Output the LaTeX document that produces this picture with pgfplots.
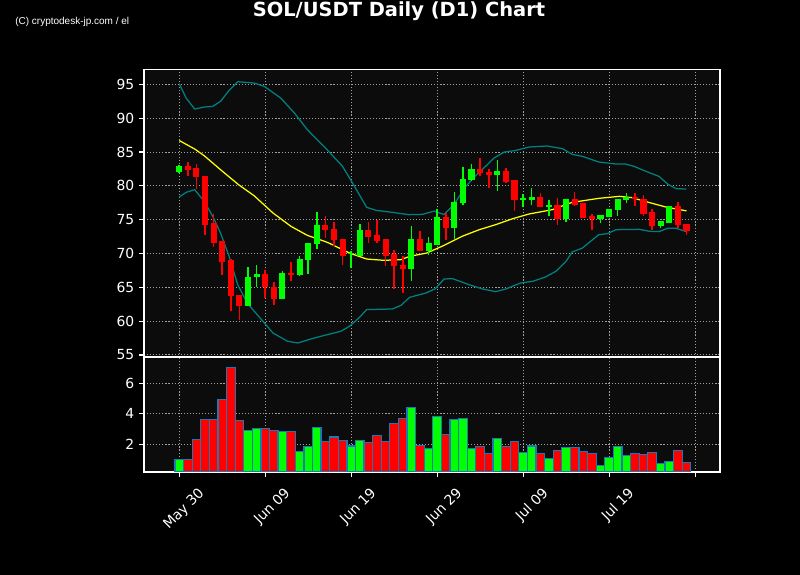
\documentclass[border=0pt]{standalone}
\usepackage{fontspec}
\setmainfont{DejaVu Sans}
\newfontfamily\cpfont{Liberation Sans}
\usepackage{pgfplots}
\usepackage{pgfplotstable}
\pgfplotsset{compat=1.18}
\definecolor{upg}{RGB}{0,255,0}
\definecolor{dnr}{RGB}{255,0,0}
\definecolor{axbg}{RGB}{12,12,12}
\definecolor{edgeb}{RGB}{31,119,180}
\definecolor{bband}{RGB}{0,128,128}
\definecolor{smay}{RGB}{255,255,0}
\definecolor{gridc}{RGB}{160,160,160}

% x o h l c v(1e6)
\pgfplotstableread{
x o h l c v
0 82.0 83.1 81.9 82.8 1.02
8 62.2 68.0 62.2 66.5 2.92
9 66.5 68.3 65.0 66.9 3.05
12 63.2 67.4 63.2 67.0 2.85
14 66.8 69.6 66.6 69.1 1.54
15 69.1 71.6 67.0 71.5 1.87
16 71.4 76.1 70.7 74.1 3.11
20 69.9 70.35 67.9 70.05 1.89
21 69.7 74.3 69.7 73.35 2.26
27 67.75 74.0 65.9 72.05 4.43
29 70.4 72.4 69.8 71.45 1.74
30 71.3 76.6 71.3 75.3 3.84
32 73.7 79.1 72.2 77.5 3.64
33 77.4 82.8 77.1 80.9 3.70
34 80.9 83.2 80.7 82.4 1.74
37 81.55 83.8 79.2 82.05 2.39
40 77.85 78.8 76.8 78.15 1.48
41 77.95 79.7 77.1 78.3 1.88
43 76.8 77.85 75.6 77.1 1.06
45 75.05 77.95 74.6 77.95 1.80
49 75.05 75.6 74.5 75.6 0.62
50 75.45 76.5 75.45 76.5 1.15
51 76.4 77.95 75.6 77.95 1.87
52 77.85 78.9 77.4 78.3 1.28
56 74.0 74.7 73.7 74.7 0.75
57 74.55 77.0 74.55 77.0 0.89
}\up

\pgfplotstableread{
x o h l c v
1 82.8 83.5 81.5 82.4 1.02
2 82.5 83.2 79.5 81.25 2.33
3 81.35 81.35 72.8 74.26 3.64
4 74.4 75.8 70.9 71.6 3.64
5 71.7 71.8 66.8 68.8 4.95
6 68.9 69.2 61.5 63.7 7.05
7 63.8 63.8 60.2 62.2 3.57
10 66.9 67.6 63.4 65.0 3.05
11 65.0 65.8 62.4 63.2 2.92
13 67.1 68.8 66.0 66.8 2.85
17 74.1 75.6 72.3 73.5 2.20
18 73.6 74.7 71.1 72.0 2.47
19 72.1 72.1 68.3 69.7 2.26
22 73.4 74.7 71.5 72.5 2.13
23 72.6 75.0 71.5 71.9 2.59
24 72.0 72.0 68.1 69.7 2.20
25 69.8 70.5 64.8 68.1 3.38
26 68.2 69.7 64.2 67.75 3.70
28 72.0 73.3 70.4 70.4 1.93
31 75.3 76.0 72.0 73.7 2.66
35 82.4 84.1 81.4 81.85 1.87
36 81.9 82.5 79.7 81.55 1.41
38 82.1 82.7 80.4 80.6 1.87
39 80.75 80.75 76.3 77.85 2.20
42 78.3 78.9 76.8 76.8 1.37
44 77.05 78.2 74.2 75.05 1.61
46 77.95 79.1 77.0 77.2 1.80
47 77.35 77.5 75.2 75.3 1.54
48 75.4 75.9 73.5 75.05 1.37
53 78.3 78.9 77.0 78.1 1.41
54 77.95 78.6 75.5 75.9 1.34
55 76.0 76.6 73.4 74.0 1.48
58 77.0 77.6 73.7 74.2 1.61
59 74.25 74.4 72.8 73.3 0.82
}\down

\pgfplotstableread{
x y
0 86.7
1.8 85.44
2.9 84.46
4.8 82.39
6.9 80.17
8.7 78.55
10.9 75.99
13 74.01
14.9 72.68
16.9 71.8
17.4 71.55
19.8 70.07
21.8 69.18
23.8 68.99
25.8 69.09
26.8 69.58
28.8 70.07
30.8 71.2
32.9 72.54
34.9 73.52
36.8 74.26
38.8 75.15
40.7 75.84
43.4 76.48
45.7 77.56
48.8 78.15
51.2 78.45
52.7 78.25
54.3 77.66
56.6 76.87
59 76.3
}\sma

\pgfplotstableread{
x y
0 95.1
0.8 92.98
1.8 91.35
2.9 91.65
3.9 91.75
4.8 92.49
5.8 94.11
6.8 95.39
8.7 95.2
9.9 94.7
11.8 92.98
13.4 90.76
14.9 88.3
17.2 85.34
19.0 82.88
20.5 79.68
21.8 76.82
22.9 76.38
24.8 76.08
26.7 75.74
28.3 75.79
29.65 76.26
30.8 75.76
32.0 77.27
33.1 79.55
34.3 81.3
35.4 82.6
36.6 84.1
37.8 85.0
39.0 85.2
40.7 85.74
42.8 85.89
44.6 85.49
45.7 84.66
46.9 84.36
48.8 83.52
50.8 83.23
51.9 83.23
52.9 82.88
54.3 82.14
55.8 81.4
56.8 80.27
57.8 79.58
59 79.53
}\bbup

\pgfplotstableread{
x y
0 78.35
0.8 79.04
1.8 79.43
2.9 77.71
3.9 75.49
4.8 73.03
5.8 69.58
6.8 65.39
7.9 62.68
9.9 59.73
10.9 58.25
12.6 57.02
13.8 56.77
15.3 57.36
16.9 57.9
18.8 58.5
19.8 59.24
20.9 60.47
21.8 61.7
24.8 61.8
25.8 62.34
26.8 63.52
28.7 64.16
29.8 64.8
30.8 66.23
31.8 66.28
33.7 65.39
35.3 64.75
36.8 64.36
38 64.75
39.7 65.64
41.1 65.88
42.6 66.53
43.8 67.36
45 68.84
45.7 70.22
46.9 70.81
48.8 72.78
49.8 72.93
50.8 73.52
53.5 73.57
54.7 73.28
55.8 73.23
56.8 73.72
57.8 73.72
59 73.23
}\bblo

\pgfplotsset{
  darkax/.style={
    scale only axis,
    width=414.72pt,
    xmin=-4.1, xmax=62.9,
    axis background/.style={fill=axbg},
    axis line style={white, line width=0.8pt},
    tick style={white, line width=0.8pt},
    tick align=outside,
    major tick length=3.5pt,
    xtick pos=left, ytick pos=left,
    xtick={0,10,...,60},
    grid=major,
    grid style={gridc, line width=0.7pt, dash pattern=on 0.8pt off 1.4pt},
    tick label style={white, font=\fontsize{10}{12}\selectfont},
    label style={white, font=\fontsize{10}{12}\selectfont},
    /pgf/number format/assume math mode=true,
  },
  wick/.style={draw=none, mark=none, forget plot,
    error bars/.cd, y dir=plus, y explicit, error mark=none,
    error bar style={draw=#1, line width=1.1pt}},
  body/.style={draw=none, mark=none, forget plot,
    error bars/.cd, y dir=plus, y explicit, error mark=none,
    error bar style={draw=#1, line width=4.4pt}},
}

\begin{document}
\begin{tikzpicture}[x=0.72pt,y=0.72pt]
\fill[black] (0,0) rectangle (800,575);
\path[use as bounding box] (0,0) rectangle (800,575);

\node[white, font=\bfseries\fontsize{14}{16}\selectfont] at (399,564) {SOL/USDT Daily (D1) Chart};
\node[white, anchor=west, inner sep=0pt, font=\cpfont\fontsize{7.2}{8}\selectfont] at (15,553.5) {(C) cryptodesk-jp.com / el};

% price panel
\begin{axis}[darkax,
  at={(103.68pt,156.96pt)}, anchor=south west,
  height=207pt,
  ymin=54.7, ymax=97.2,
  ytick={55,60,...,95},
  xticklabels={},
  xtick style={draw=none},
  ylabel={Price},
  every axis y label/.style={at={(axis description cs:-0.0712,0.5)}, rotate=90, anchor=center},
]
\addplot[bband, line width=0.9pt] table[x=x,y=y] {\bbup};
\addplot[bband, line width=0.9pt] table[x=x,y=y] {\bblo};
\addplot[smay, line width=0.9pt] table[x=x,y=y] {\sma};
% wicks
\addplot[wick=upg] table[x=x, y=l, y error expr=\thisrow{h}-\thisrow{l}] {\up};
\addplot[wick=dnr] table[x=x, y=l, y error expr=\thisrow{h}-\thisrow{l}] {\down};
% bodies
\addplot[body=upg] table[x=x, y=o, y error expr=\thisrow{c}-\thisrow{o}+0.08] {\up};
\addplot[body=dnr] table[x=x, y=c, y error expr=\thisrow{o}-\thisrow{c}+0.08] {\down};
\end{axis}

% volume panel
\begin{axis}[darkax,
  at={(103.68pt,74.16pt)}, anchor=south west,
  height=82.8pt,
  ymin=0.18, ymax=7.73,
  ytick={2,4,6},
  xticklabels={May 30,Jun 09,Jun 19,Jun 29,Jul 09,Jul 19,{}},
  xticklabel style={rotate=45, anchor=north east, inner sep=0pt, xshift=4.5pt, yshift=-14pt},
  ylabel={Volume\ \ 10\textsuperscript{6}},
  every axis y label/.style={at={(axis description cs:-0.059,0.5)}, rotate=90, anchor=center},
]
\addplot[ybar, bar width=1, bar shift=0pt, fill=upg, draw=edgeb, line width=0.9pt] table[x=x,y=v] {\up};
\addplot[ybar, bar width=1, bar shift=0pt, fill=dnr, draw=edgeb, line width=0.9pt] table[x=x,y=v] {\down};
\end{axis}
\end{tikzpicture}
\end{document}
